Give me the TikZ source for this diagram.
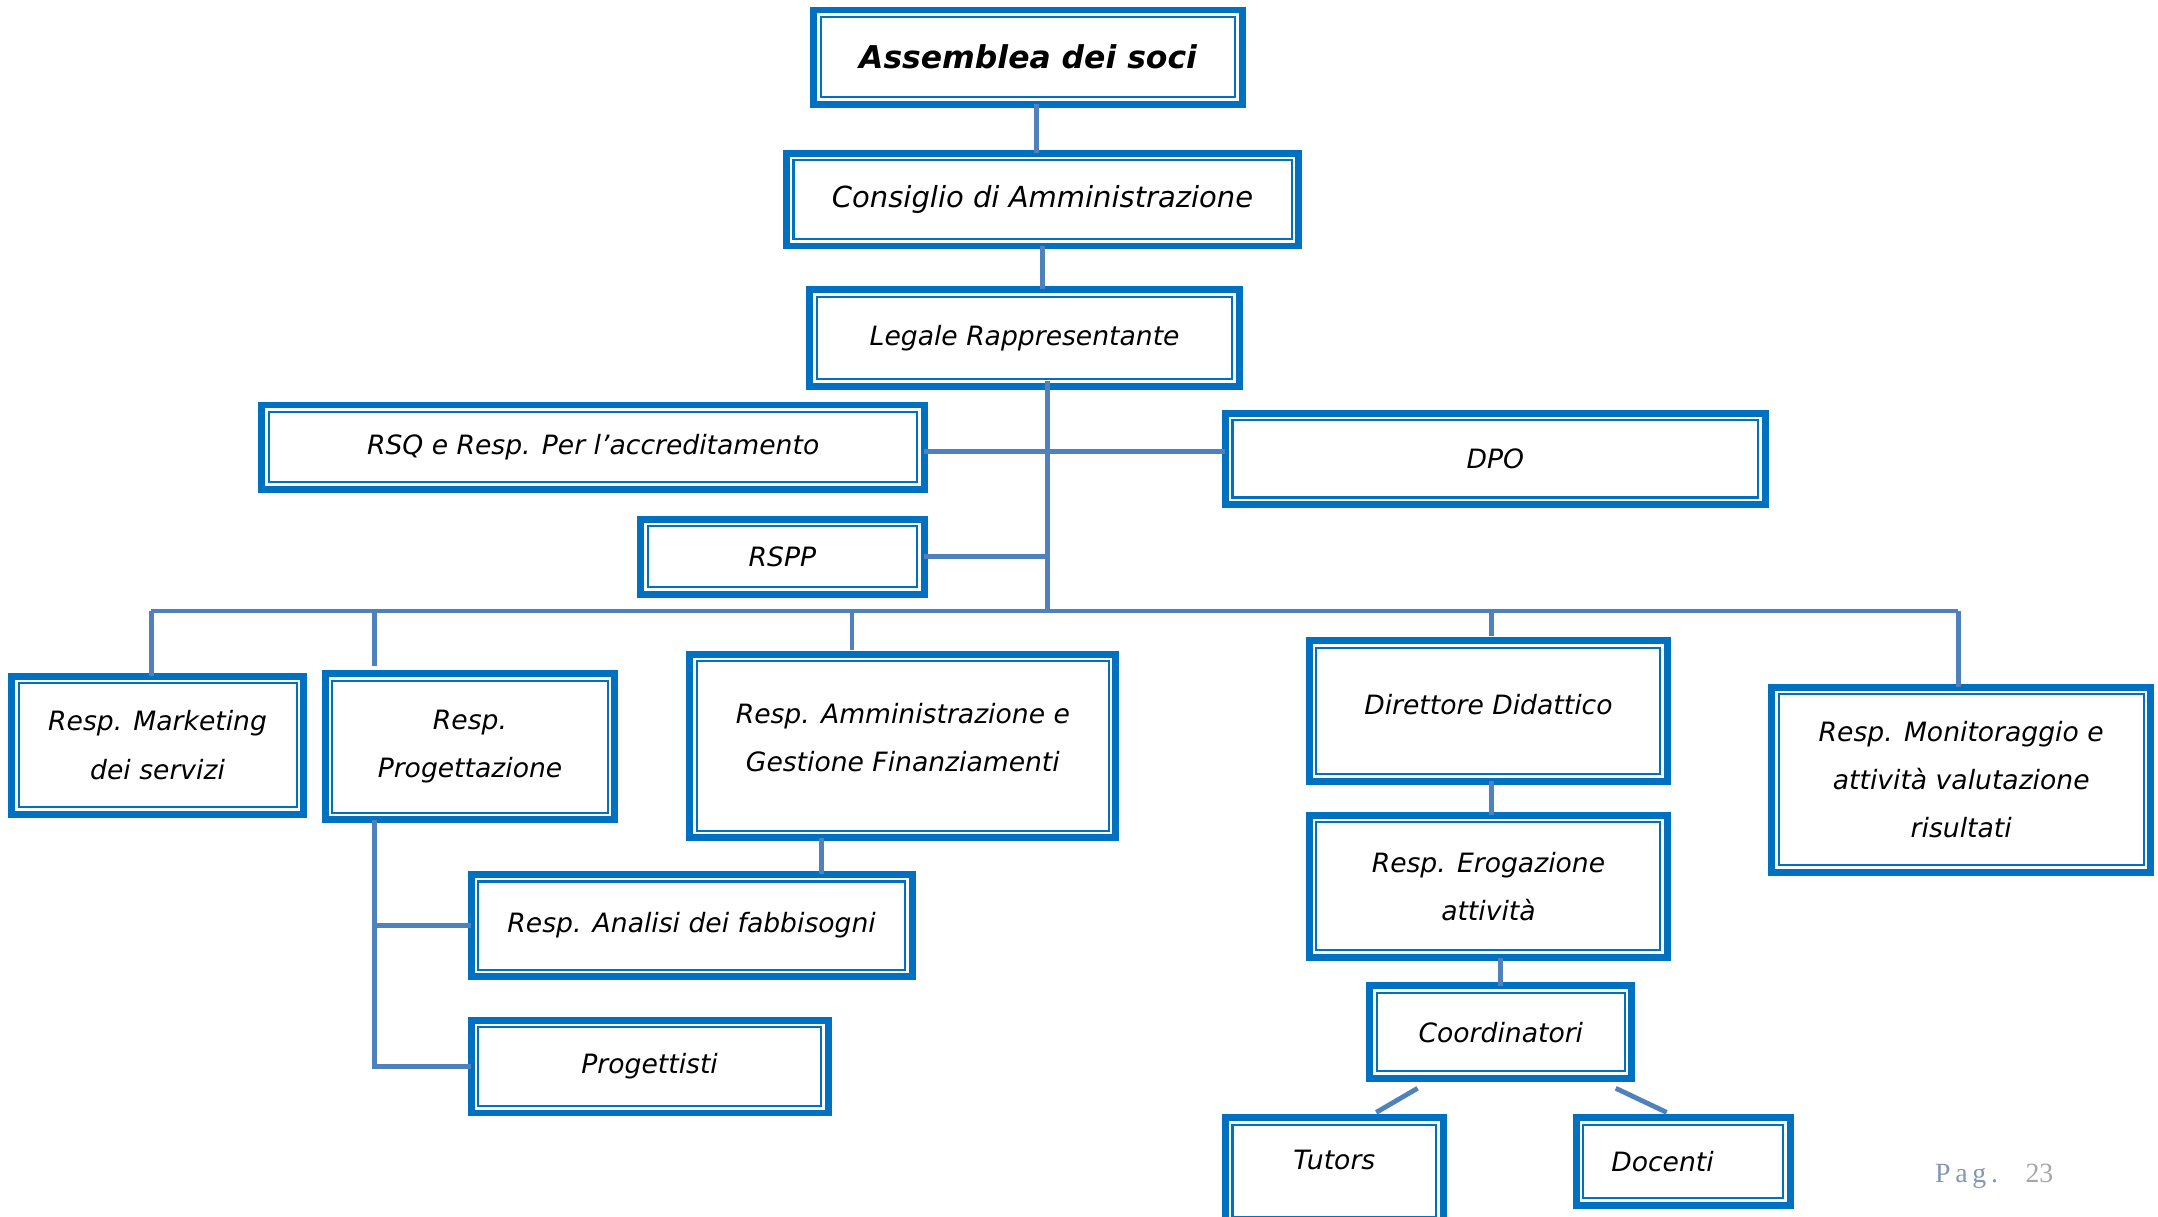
\documentclass[tikz,border=0pt]{standalone}
\usepackage{fontspec}
\setmainfont{DejaVu Sans}
\newfontfamily\pagfont[LetterSpace=17]{Liberation Serif}
\newfontfamily\numfont{Liberation Serif}
\usepackage{tikz}
\usetikzlibrary{calc}
\usetikzlibrary{positioning}

\definecolor{boxblue}{HTML}{0070C0}
\definecolor{linkblue}{HTML}{4F81BD}
\definecolor{pagblue}{HTML}{8497B0}
\definecolor{pagnum}{HTML}{A6A6A6}

\tikzset{
	unitbox/.style={rectangle, draw=boxblue, line width=0.1cm, outer sep=0pt, fill=white,
		align=center, font=\fontsize{11}{20}\selectfont\itshape},
	innerline/.style={draw=boxblue, line width=0.03cm},
	link/.style={draw=linkblue, line width=0.07cm},
	pagina/.style={inner sep=0pt, font=\fontsize{11.5}{12}\selectfont}
}

\begin{document}
\begin{tikzpicture}[x=0.02cm, y=-0.02cm]
				\clip (0,0) rectangle (1568,884);
				
				% vertici
				\node[unitbox, minimum width=6.23cm, minimum height=1.37cm, font=\fontsize{13}{16}\selectfont\bfseries\itshape] (soci) at (747,41.5) {Assemblea dei soci};
				\node[unitbox, minimum width=7.45cm, minimum height=1.35cm, font=\fontsize{12}{16}\selectfont\itshape] (cda) at (757.5,145) {Consiglio di Amministrazione};
				\node[unitbox, minimum width=6.25cm, minimum height=1.41cm] (legale) at (744.5,245.5) {Legale Rappresentante};
				\node[unitbox, minimum width=9.63cm, minimum height=1.23cm] (rsq) at (431,325) {RSQ e Resp. Per l’accreditamento};
				\node[unitbox, minimum width=7.85cm, minimum height=1.33cm] (dpo) at (1086.5,333.5) {DPO};
				\node[unitbox, minimum width=4.13cm, minimum height=1.09cm] (rspp) at (568.5,404.5) {RSPP};
				
				% livello operativo
				\node[unitbox, minimum width=4.25cm, minimum height=2.01cm] (mkt) at (114.5,541.5) {Resp. Marketing\\dei servizi};
				\node[unitbox, minimum width=4.21cm, minimum height=2.13cm] (prog) at (341.5,542.5) {Resp.\\Progettazione};
				\node[unitbox, minimum width=6.19cm, minimum height=2.67cm, text depth=0.25cm] (amm) at (656,542) {Resp. Amministrazione e\\Gestione Finanziamenti};
				\node[unitbox, minimum width=5.21cm, minimum height=2.05cm, text depth=0.2cm] (dir) at (1081.5,516.5) {Direttore Didattico};
				\node[unitbox, minimum width=5.51cm, minimum height=2.69cm] (mon) at (1425,566.5) {Resp. Monitoraggio e\\attività valutazione\\risultati};
				\node[unitbox, minimum width=6.41cm, minimum height=1.49cm] (analisi) at (502.5,672.5) {Resp. Analisi dei fabbisogni};
				\node[unitbox, minimum width=5.19cm, minimum height=1.35cm] (progettisti) at (472,775) {Progettisti};
				\node[unitbox, minimum width=5.21cm, minimum height=2.07cm] (erog) at (1081.5,644) {Resp. Erogazione\\attività};
				\node[unitbox, minimum width=3.81cm, minimum height=1.35cm] (coord) at (1090.5,750) {Coordinatori};
				\node[unitbox, minimum width=3.17cm, minimum height=1.55cm, text depth=0.33cm] (tutors) at (969.5,851) {Tutors};
				\node[unitbox, minimum width=3.11cm, minimum height=1.27cm] (docenti) at (1223,844) {Docenti\hspace{0.6cm}};
				
				% filetto interno
				\foreach \n in {soci,cda,legale,rsq,dpo,rspp,mkt,prog,amm,dir,mon,analisi,progettisti,erog,coord,tutors,docenti}
					\draw[innerline] ([shift={(0.105cm,-0.105cm)}]\n.north west) rectangle ([shift={(-0.105cm,0.105cm)}]\n.south east);
				
				% punti di raccordo
				\coordinate (trunk) at (761,444);
				\coordinate (hub) at (761,328);
				\coordinate (busL) at (110,444);
				\coordinate (busR) at (1423,444);
				\coordinate (b2) at (272,444);
				\coordinate (b3) at (619,444);
				\coordinate (b4) at (1084,444);
				\coordinate (a1) at (597,622);
				
				\draw[link] ([xshift=0.12cm]soci.south) -- ([xshift=0.12cm]soci.south |- cda.north);
				\draw[link] (cda.south) -- (cda.south |- legale.north);
				\draw[link] ([yshift=0.08cm]trunk |- legale.south) -- (trunk);
				\draw[link] (hub -| rsq.east) -- (hub -| dpo.west);
				\draw[link] (rspp.east) -- (rspp.east -| trunk);
				\draw[link] (busL) -- (busR);
				\draw[link] (busL) -- (busL |- mkt.north);
				\draw[link] (b2) -- ([yshift=0.1cm]b2 |- prog.north);
				\draw[link] (b3) -- ([yshift=0.06cm]b3 |- amm.north);
				\draw[link] (b4) -- ([yshift=0.06cm]b4 |- dir.north);
				\draw[link] (busR) -- (busR |- mon.north);
				\draw[link] (b2 |- prog.south) -- (b2 |- progettisti.west) -- (progettisti.west);
				\draw[link] (b2 |- analisi.west) -- (analisi.west);
				\draw[link] (a1 |- amm.south) -- (a1 |- analisi.north);
				\draw[link] (b4 |- dir.south) -- (b4 |- erog.north);
				\draw[link] (coord.north) -- (coord.north |- erog.south);
				\draw[link] ([xshift=-1.21cm,yshift=-0.14cm]coord.south) -- ([xshift=0.61cm,yshift=0.08cm]tutors.north);
				\draw[link] ([xshift=1.67cm,yshift=-0.14cm]coord.south) -- ([xshift=-0.24cm,yshift=0.08cm]docenti.north);
				
				\node[pagina] (pag) at (1449,855) {\textcolor{pagblue}{\pagfont Pag.}\hspace{0.4cm}\textcolor{pagnum}{\numfont 23}};
			\end{tikzpicture}
\end{document}
